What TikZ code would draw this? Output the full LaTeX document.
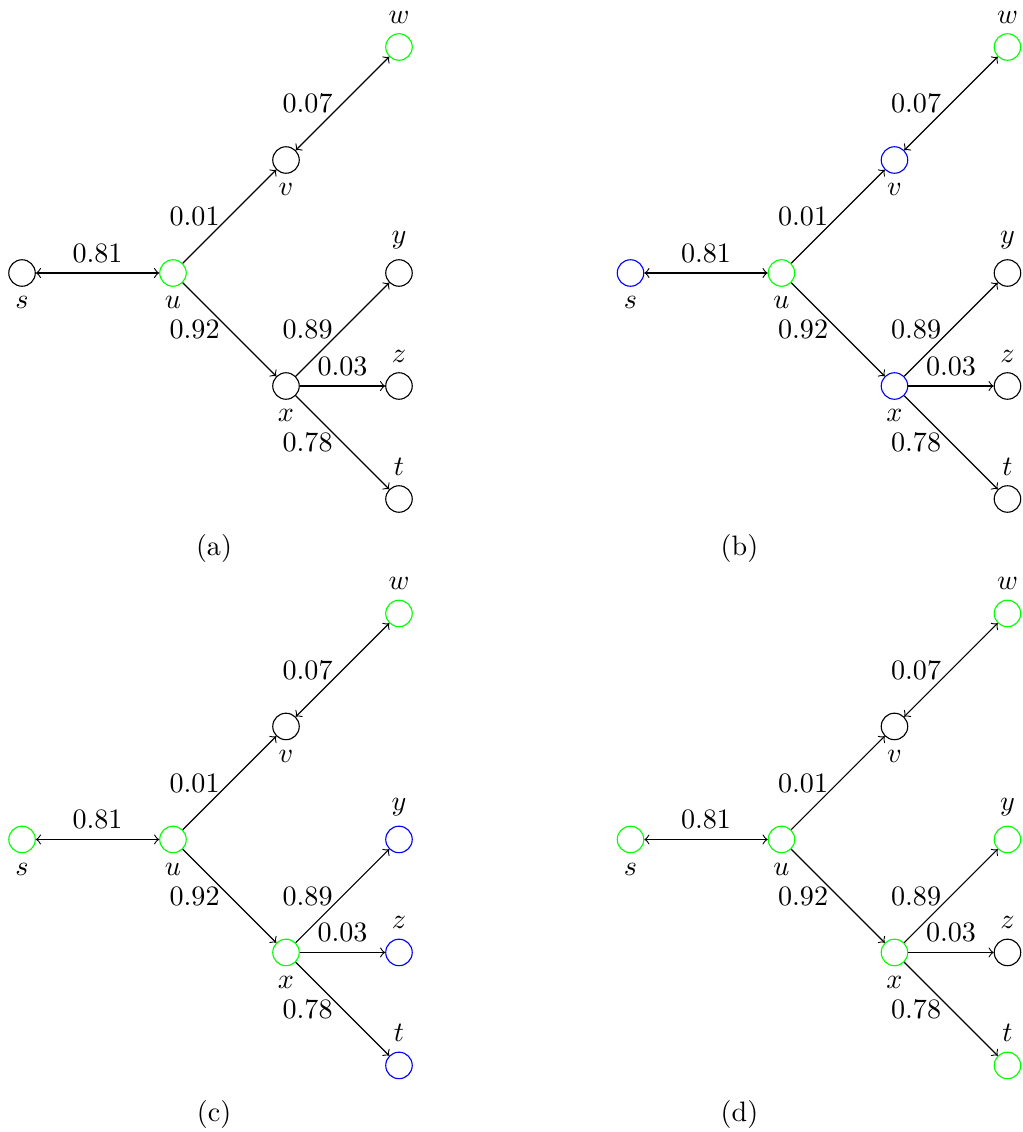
\documentclass[tikz,border=0pt]{standalone}

\tikzset{
  vert/.style={circle, draw, inner sep=3.333pt},
  col s/.style={}, col u/.style={}, col v/.style={}, col w/.style={},
  col x/.style={}, col y/.style={}, col z/.style={}, col t/.style={},
  subcap/.style={anchor=base},
}

% one panel of the graph, node names get the prefix #1
\newcommand{\graphpanel}[1]{%
  \node[vert, col s, label=below:$s$] (#1-s) at (-1.336,0) {};
  \node[vert, col u, label=below:$u$] (#1-u) at (0,0) {};
  \node[vert, col v, label=below:$v$] (#1-v) at (1,1) {};
  \node[vert, col w, label=above:$w$] (#1-w) at (2,2) {};
  \node[vert, col x, label=below:$x$] (#1-x) at (1,-1) {};
  \node[vert, col y, label=above:$y$] (#1-y) at (2,0) {};
  \node[vert, col z, label=above:$z$] (#1-z) at (2,-1) {};
  \node[vert, col t, label=above:$t$] (#1-t) at (2,-2) {};
  \draw[<->] (#1-s) -- node[above] {0.81} (#1-u);
  \draw[->] (#1-u) -- node[left] {0.01} (#1-v);
  \draw[<->] (#1-v) -- node[left] {0.07} (#1-w);
  \draw[->] (#1-u) -- node[left] {0.92} (#1-x);
  \draw[->] (#1-x) -- node[left] {0.89} (#1-y);
  \draw[->] (#1-x) -- node[above] {0.03} (#1-z);
  \draw[->] (#1-x) -- node[left] {0.78} (#1-t);
}

\begin{document}
\begin{tikzpicture}[x=40.21pt, y=40.21pt]
  \useasboundingbox (-1.531,2.416) rectangle (7.522,-7.602);

  \begin{scope}[col u/.style={draw=green}, col w/.style={draw=green}]
    \graphpanel{a}
    \node[subcap] (cap-a) at (0.363,-2.496) {(a)};
  \end{scope}

  \begin{scope}[shift={(5.385,0)},
      col s/.style={draw=blue}, col u/.style={draw=green}, col v/.style={draw=blue},
      col w/.style={draw=green}, col x/.style={draw=blue}]
    \graphpanel{b}
    \node[subcap] (cap-b) at (-0.372,-2.496) {(b)};
  \end{scope}

  \begin{scope}[shift={(0,-5.013)},
      col s/.style={draw=green}, col u/.style={draw=green}, col w/.style={draw=green},
      col x/.style={draw=green}, col y/.style={draw=blue}, col z/.style={draw=blue},
      col t/.style={draw=blue}]
    \graphpanel{c}
    \node[subcap] (cap-c) at (0.363,-2.496) {(c)};
  \end{scope}

  \begin{scope}[shift={(5.385,-5.013)},
      col s/.style={draw=green}, col u/.style={draw=green}, col w/.style={draw=green},
      col x/.style={draw=green}, col y/.style={draw=green}, col t/.style={draw=green}]
    \graphpanel{d}
    \node[subcap] (cap-d) at (-0.372,-2.496) {(d)};
  \end{scope}
\end{tikzpicture}
\end{document}
